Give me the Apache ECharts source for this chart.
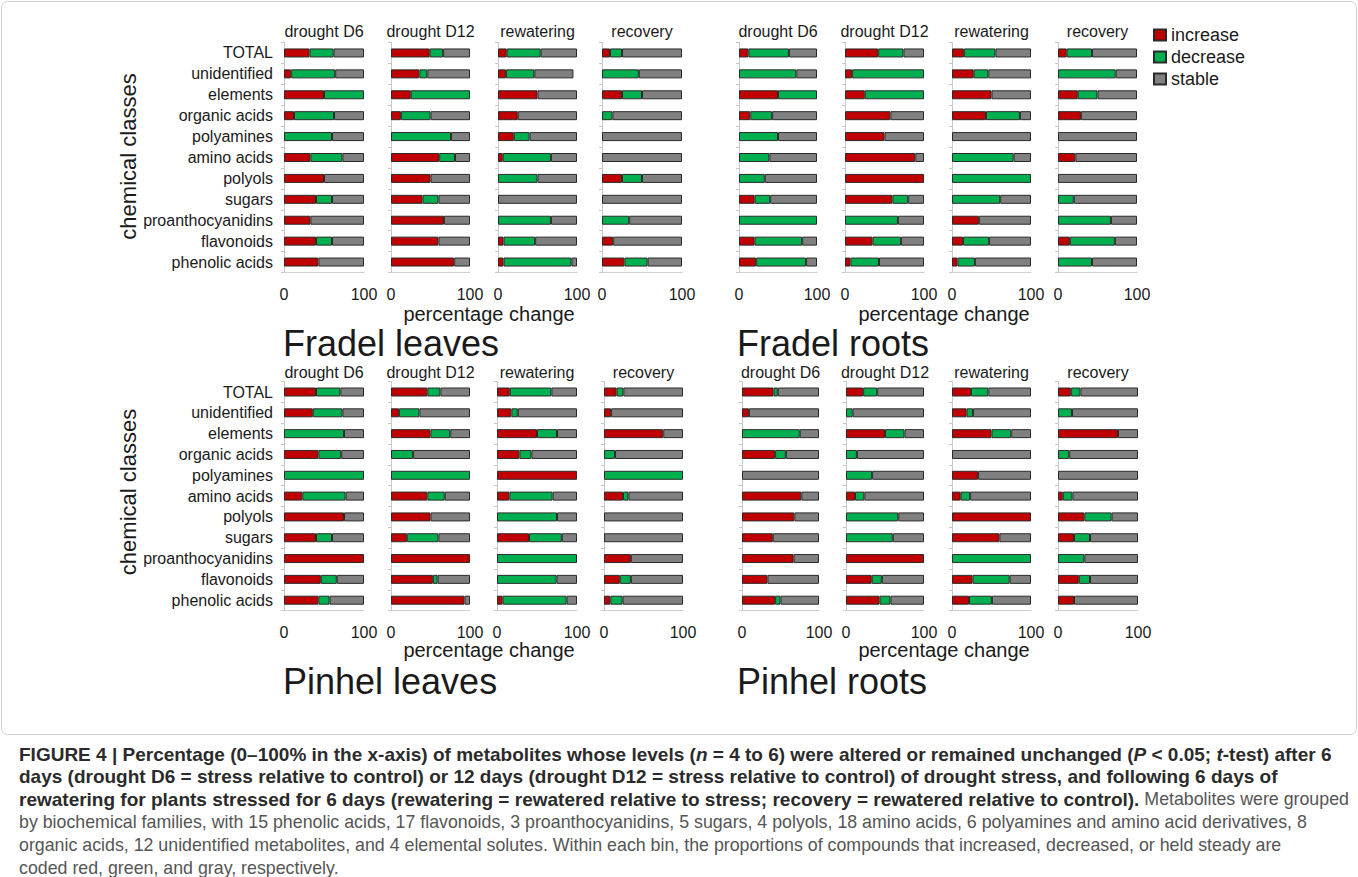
<!DOCTYPE html>
<html>
<head>
<meta charset="utf-8">
<script src="https://cdn.jsdelivr.net/npm/echarts@6/dist/echarts.min.js"></script>
<style>
html,body{margin:0;padding:0;background:#fff;}
#chart{width:1358px;height:877px;}
</style>
</head>
<body>
<div id="chart"></div>
<script>
// ---------- data ----------
const categories = ['TOTAL','unidentified','elements','organic acids','polyamines','amino acids','polyols','sugars','proanthocyanidins','flavonoids','phenolic acids'];
const stages = ['drought D6','drought D12','rewatering','recovery'];
const groupNames = ['Fradel leaves','Fradel roots','Pinhel leaves','Pinhel roots'];
const seriesNames = ['increase','decrease','stable'];
const xTickMin = 0, xTickMax = 100;

// Fradel leaves
const flD6Inc  = [32, 9, 50, 12.5, 0, 33, 50, 40, 33, 40, 43];
const flD6Dec  = [30, 55, 50, 50, 60, 40, 0, 20, 0, 20, 0];
const flD6Sta  = [38, 36, 0, 37.5, 40, 27, 50, 40, 67, 40, 57];
const flD12Inc = [49, 36, 25, 12.5, 0, 61, 50, 40, 67, 60, 80];
const flD12Dec = [17, 10, 75, 37.5, 76, 20, 0, 20, 0, 0, 0];
const flD12Sta = [34, 54, 0, 50, 24, 19, 50, 40, 33, 40, 20];
const flRwInc  = [11, 10, 50, 25, 20, 6, 0, 0, 0, 7, 7];
const flRwDec  = [43, 36, 0, 0, 20, 61, 50, 0, 67, 40, 86];
const flRwSta  = [46, 49.5, 50, 75, 60, 33, 50, 100, 33, 53, 7];
const flRcInc  = [10, 0, 25, 0, 0, 0, 25, 0, 0, 14, 28];
const flRcDec  = [15, 46, 25, 13, 0, 0, 25, 0, 34, 0, 29];
const flRcSta  = [75, 54, 50, 87, 100, 100, 50, 100, 66, 86, 43];
// Fradel roots
const frD6Inc  = [12, 0, 50, 14.5, 0, 0, 0, 20, 0, 20, 22];
const frD6Dec  = [52, 73.5, 50, 28, 50, 39, 33, 20, 100, 61, 64];
const frD6Sta  = [36, 26.5, 0, 57.5, 50, 61, 67, 60, 0, 19, 14];
const frD12Inc = [42, 9, 25, 57.5, 50, 89, 100, 60, 0, 35, 7];
const frD12Dec = [32, 91, 75, 0, 0, 0, 0, 20, 67, 36, 36];
const frD12Sta = [26, 0, 0, 42.5, 50, 11, 0, 20, 33, 29, 57];
const frRwInc  = [15, 27.5, 50, 43, 0, 0, 0, 0, 34, 14, 7];
const frRwDec  = [40, 18.5, 0, 43, 0, 78, 100, 61, 0, 33, 22];
const frRwSta  = [45, 54, 50, 14, 100, 22, 0, 39, 66, 53, 71];
const frRcInc  = [11, 0, 25, 29, 0, 22, 0, 0, 0, 15, 0];
const frRcDec  = [32, 73, 25, 0, 0, 0, 0, 20, 67, 57, 43];
const frRcSta  = [57, 27, 50, 71, 100, 78, 100, 80, 33, 28, 57];
// Pinhel leaves
const plD6Inc  = [40, 36, 0, 43, 0, 23, 75, 40, 100, 46, 43];
const plD6Dec  = [30.5, 37, 75, 28.5, 100, 54, 0, 20, 0, 20, 14];
const plD6Sta  = [29.5, 27, 25, 28.5, 0, 23, 25, 40, 0, 34, 43];
const plD12Inc = [46, 10, 50, 0, 0, 46, 50, 20, 100, 53, 93];
const plD12Dec = [16.5, 26, 25, 28, 100, 22, 0, 40, 0, 6, 0];
const plD12Sta = [37.5, 64, 25, 72, 0, 32, 50, 40, 0, 41, 7];
const plRwInc  = [16, 18, 50, 28, 100, 15.5, 0, 40, 0, 0, 7];
const plRwDec  = [52, 8, 25, 15, 0, 54, 75, 41, 100, 74.5, 80];
const plRwSta  = [32, 74, 25, 57, 0, 30.5, 25, 19, 0, 25.5, 13];
const plRcInc  = [16, 9, 75, 0, 0, 24, 0, 0, 34, 20, 8];
const plRcDec  = [8.5, 0, 0, 14, 100, 7, 0, 0, 0, 14, 15.5];
const plRcSta  = [75.5, 91, 25, 86, 0, 69, 100, 100, 66, 66, 76.5];
// Pinhel roots
const prD6Inc  = [41, 9, 0, 43, 0, 77, 68, 40, 67, 33, 43];
const prD6Dec  = [5.5, 0, 75, 14, 0, 0, 0, 0, 0, 0, 7];
const prD6Sta  = [53.5, 91, 25, 43, 100, 23, 32, 60, 33, 67, 50];
const prD12Inc = [22, 0, 50, 0, 0, 11.5, 0, 0, 100, 33, 43];
const prD12Dec = [18, 8.5, 25, 14, 33.5, 12, 67, 60, 0, 13, 14];
const prD12Sta = [60, 91.5, 25, 86, 66.5, 76.5, 33, 40, 0, 54, 43];
const prRwInc  = [24, 18.5, 50, 0, 33, 11, 100, 60, 0, 26, 21.5];
const prRwDec  = [22, 8, 25, 0, 0, 12, 0, 0, 100, 47, 29];
const prRwSta  = [54, 73.5, 25, 100, 67, 77, 0, 40, 0, 27, 49.5];
const prRcInc  = [16, 0, 75, 0, 0, 6, 33, 20, 0, 26, 20];
const prRcDec  = [12, 17.5, 0, 14, 0, 12, 34, 20, 33, 14, 0];
const prRcSta  = [72, 82.5, 25, 86, 100, 82, 33, 60, 67, 60, 80];

const panelData = [
  [[flD6Inc, flD6Dec, flD6Sta], [flD12Inc, flD12Dec, flD12Sta], [flRwInc, flRwDec, flRwSta], [flRcInc, flRcDec, flRcSta]],
  [[frD6Inc, frD6Dec, frD6Sta], [frD12Inc, frD12Dec, frD12Sta], [frRwInc, frRwDec, frRwSta], [frRcInc, frRcDec, frRcSta]],
  [[plD6Inc, plD6Dec, plD6Sta], [plD12Inc, plD12Dec, plD12Sta], [plRwInc, plRwDec, plRwSta], [plRcInc, plRcDec, plRcSta]],
  [[prD6Inc, prD6Dec, prD6Sta], [prD12Inc, prD12Dec, prD12Sta], [prRwInc, prRwDec, prRwSta], [prRcInc, prRcDec, prRcSta]]
];

// ---------- layout ----------
const FONT = '"Liberation Sans", Arial, Helvetica, sans-serif';
const colors = ['#C00000', '#00B050', '#808080'];
const groupLefts = [[284, 391, 498, 602], [739, 845, 952, 1058], [284, 391, 497, 604], [742, 846, 952, 1058]];
const groupWidths = [[80, 79, 79, 80], [78, 79, 79, 79], [80, 79, 80, 79], [77, 78, 79, 80]];
const groupTop = [42.5, 42.5, 381.6, 381.6];
const groupHeight = [230, 230, 229, 229];
const titleY = [31, 31, 372.5, 372.5];
const groupLabelX = [283, 737, 283, 737];
const groupLabelY = [343, 343, 681, 681];
const pctX = [489, 944, 489, 944];
const pctY = [314, 314, 650, 650];

const grids = [], xAxes = [], yAxes = [], series = [], graphics = [];
let gi = 0;
for (let g = 0; g < 4; g++) {
  for (let s = 0; s < 4; s++) {
    const left = groupLefts[g][s], w = groupWidths[g][s];
    grids.push({left: left, top: groupTop[g], width: w, height: groupHeight[g], containLabel: false});
    xAxes.push({
      type: 'value', gridIndex: gi, min: xTickMin, max: xTickMax, interval: xTickMax - xTickMin,
      axisLine: {show: true, lineStyle: {color: '#d0d0d0', width: 1}},
      axisTick: {show: false}, splitLine: {show: false},
      axisLabel: {show: true, fontSize: 16, color: '#1a1a1a', fontFamily: FONT, margin: 14}
    });
    yAxes.push({
      type: 'category', gridIndex: gi, data: categories, inverse: true,
      axisLine: {show: true, lineStyle: {color: '#c8c8c8', width: 1}},
      axisTick: {show: true, length: 3, lineStyle: {color: '#c8c8c8'}},
      axisLabel: {show: (s === 0 && (g === 0 || g === 2)), fontSize: 16, color: '#1a1a1a', fontFamily: FONT, margin: 11}
    });
    const d = panelData[g][s];
    for (let k = 0; k < 3; k++) {
      series.push({
        type: 'bar', name: seriesNames[k], xAxisIndex: gi, yAxisIndex: gi, stack: 'p' + gi,
        barWidth: 9,
        data: d[k].map(v => v === 0 ? '-' : v),
        itemStyle: {color: colors[k], borderColor: '#2a2a2a', borderWidth: 1},
        emphasis: {disabled: true}, silent: true
      });
    }
    graphics.push({
      type: 'text', x: left + w / 2, y: titleY[g],
      style: {text: stages[s], font: '16px ' + FONT, fill: '#1a1a1a', textAlign: 'center', textVerticalAlign: 'middle'}
    });
    gi++;
  }
  graphics.push({
    type: 'text', x: groupLabelX[g], y: groupLabelY[g],
    style: {text: groupNames[g], font: '36px ' + FONT, fill: '#1a1a1a', textAlign: 'left', textVerticalAlign: 'middle'}
  });
  graphics.push({
    type: 'text', x: pctX[g], y: pctY[g],
    style: {text: 'percentage change', font: '20px ' + FONT, fill: '#1a1a1a', textAlign: 'center', textVerticalAlign: 'middle'}
  });
}
[156.5, 492].forEach(cy => {
  graphics.push({
    type: 'text', x: 128, y: cy, rotation: Math.PI / 2,
    style: {text: 'chemical classes', font: '22px ' + FONT, fill: '#1a1a1a', textAlign: 'center', textVerticalAlign: 'middle'}
  });
});
// figure frame
graphics.push({
  type: 'rect', shape: {x: 1.5, y: 1.5, width: 1355, height: 733, r: 6}, z: -10,
  style: {fill: 'none', stroke: '#cfcfcf', lineWidth: 1}
});
// caption
const captionLines = [
  '{b|FIGURE 4 | Percentage (0–100% in the x-axis) of metabolites whose levels (}{bi|n}{b| = 4 to 6) were altered or remained unchanged (}{bi|P}{b| < 0.05; }{bi|t}{b|-test) after 6}',
  '{b|days (drought D6 = stress relative to control) or 12 days (drought D12 = stress relative to control) of drought stress, and following 6 days of}',
  '{b|rewatering for plants stressed for 6 days (rewatering = rewatered relative to stress; recovery = rewatered relative to control).}{n| Metabolites were grouped}',
  '{n|by biochemical families, with 15 phenolic acids, 17 flavonoids, 3 proanthocyanidins, 5 sugars, 4 polyols, 18 amino acids, 6 polyamines and amino acid derivatives, 8}',
  '{n|organic acids, 12 unidentified metabolites, and 4 elemental solutes. Within each bin, the proportions of compounds that increased, decreased, or held steady are}',
  '{n|coded red, green, and gray, respectively.}'
];
const captionRich = {
  b: {fontFamily: FONT, fontSize: 19, fontWeight: 'bold', fill: '#2b2b2b', color: '#2b2b2b'},
  bi: {fontFamily: FONT, fontSize: 19, fontWeight: 'bold', fontStyle: 'italic', fill: '#2b2b2b', color: '#2b2b2b'},
  n: {fontFamily: FONT, fontSize: 17.8, fill: '#555555', color: '#555555'}
};
captionLines.forEach((t, i) => {
  graphics.push({
    type: 'text', x: 19, y: 754 + i * 22.7,
    style: {text: t, rich: captionRich, textAlign: 'left', textVerticalAlign: 'middle', font: '18px ' + FONT}
  });
});

const chart = echarts.init(document.getElementById('chart'), null, {renderer: 'svg'});
chart.setOption({
  animation: false,
  backgroundColor: '#ffffff',
  legend: {
    orient: 'vertical', left: 1148, top: 21, data: seriesNames,
    itemWidth: 12, itemHeight: 11, itemGap: 4, icon: 'rect',
    textStyle: {fontSize: 18, color: '#1a1a1a', fontFamily: FONT, lineHeight: 18},
    selectedMode: false
  },
  grid: grids, xAxis: xAxes, yAxis: yAxes, series: series, graphic: graphics
});
</script>
</body>
</html>
